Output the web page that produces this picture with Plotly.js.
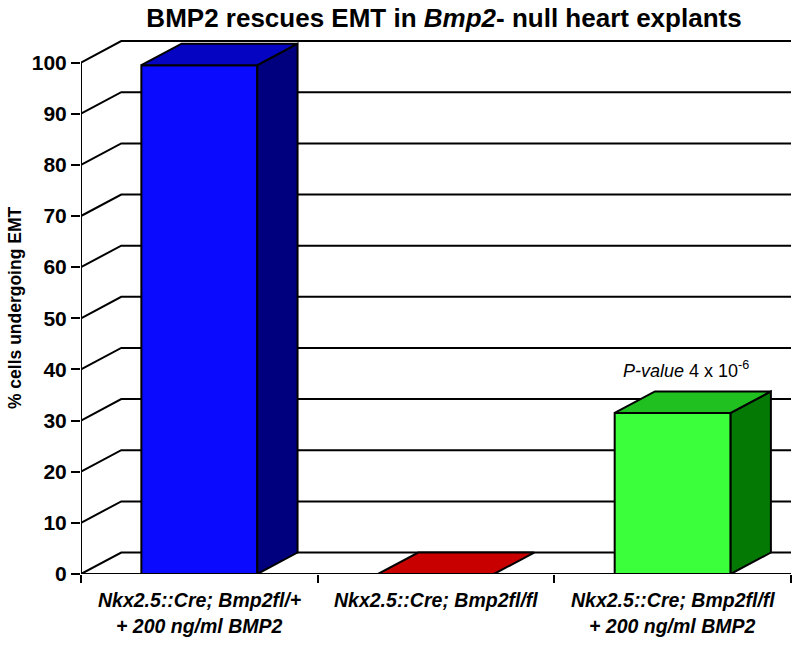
<!DOCTYPE html>
<html>
<head>
<meta charset="utf-8">
<script src="https://cdn.plot.ly/plotly-3.0.1.min.js"></script>
<style>html,body{margin:0;padding:0;background:#fff;}#chart{width:800px;height:646px;}</style>
</head>
<body>
<div id="chart"></div>
<script>
// ---- data ----
const labelLine1 = ["Nkx2.5::Cre; Bmp2fl/+", "Nkx2.5::Cre; Bmp2fl/fl", "Nkx2.5::Cre; Bmp2fl/fl"];
const labelLine2 = ["+ 200 ng/ml BMP2", "", "+ 200 ng/ml BMP2"];
const values = [99.5, 0, 31.5];
const yTicks = [0, 10, 20, 30, 40, 50, 60, 70, 80, 90, 100];
const frontColors = ["#0a0aff", "#cc0000", "#3cff3c"];
const topColors = ["#0404c2", "#c80000", "#20c020"];
const sideColors = ["#00007e", "#800000", "#047a04"];

// ---- style constants ----
const DX = 0.17, DY = 4.2, W = 0.245;
const FONT = "Liberation Sans, Arial, Helvetica, sans-serif";

const traces = [];
// back wall grid + side diagonals
const gx = [], gy = [];
yTicks.forEach(v => {
  gx.push(-0.5, -0.5 + DX, 2.505, null);
  gy.push(v, v + DY, v + DY, null);
});
// front-left vertical edge and front floor edge
gx.push(-0.5, -0.5, null, -0.5, 2.5);
gy.push(0, yTicks[yTicks.length - 1], null, 0, 0);
traces.push({x: gx, y: gy, mode: "lines", type: "scatter", line: {color: "#000", width: 2},
  hoverinfo: "skip", cliponaxis: false, showlegend: false});

function poly(xs, ys, color) {
  traces.push({x: xs.concat([xs[0]]), y: ys.concat([ys[0]]), mode: "lines", type: "scatter",
    fill: "toself", fillcolor: color, line: {color: "#000", width: 2},
    hoverinfo: "skip", cliponaxis: false, showlegend: false});
}
values.forEach((v, i) => {
  const a = i - W, b = i + W;
  if (v > 0) {
    poly([a, b, b, a], [0, 0, v, v], frontColors[i]);
    poly([b, b + DX, b + DX, b], [0, DY, v + DY, v], sideColors[i]);
  }
  poly([a, b, b + DX, a + DX], [v, v, v + DY, v + DY], topColors[i]);
});

const annotations = [];
labelLine1.forEach((t, i) => {
  annotations.push({x: i, y: 0, xref: "x", yref: "paper", text: "<b><i>" + t + "</i></b>",
    showarrow: false, xanchor: "center", yanchor: "middle", yshift: -26,
    font: {family: FONT, size: 19.5, color: "#000"}});
  if (labelLine2[i]) annotations.push({x: i, y: 0, xref: "x", yref: "paper",
    text: "<b><i>" + labelLine2[i] + "</i></b>",
    showarrow: false, xanchor: "center", yanchor: "middle", yshift: -52,
    font: {family: FONT, size: 19.5, color: "#000"}});
});
annotations.push({x: -0.093, y: 0.497, xref: "paper", yref: "paper", text: "<b>% cells undergoing EMT</b>",
  textangle: -90, showarrow: false, xanchor: "center", yanchor: "middle",
  font: {family: FONT, size: 17.5, color: "#000"}});
annotations.push({x: 2, y: 40, xref: "x", yref: "y", xshift: 13,
  text: "<i>P-value</i> 4 x 10<sup>-6</sup>", showarrow: false, xanchor: "center", yanchor: "middle",
  font: {family: FONT, size: 18, color: "#000"}});

const layout = {
  width: 800, height: 646,
  margin: {l: 81, r: 9, t: 37, b: 72},
  paper_bgcolor: "#fff", plot_bgcolor: "#fff",
  showlegend: false,
  title: {text: "<b>BMP2 rescues EMT in <i>Bmp2</i>- null heart explants</b>",
    x: 0.555, xanchor: "center", y: 0.972, yanchor: "middle", yref: "container",
    font: {family: FONT, size: 26, color: "#000"}},
  xaxis: {range: [-0.5, 2.5], showgrid: false, zeroline: false, showline: false,
    tickvals: [-0.5, 0.5, 1.5, 2.5], showticklabels: false, ticks: "outside",
    ticklen: 8, tickwidth: 2, tickcolor: "#000", fixedrange: true},
  yaxis: {range: [0, 105], showgrid: false, zeroline: false, showline: false,
    tickvals: yTicks, ticktext: yTicks.map(v => "<b>" + v + "</b>"),
    ticks: "outside", ticklen: 9, tickwidth: 2, tickcolor: "#000",
    tickfont: {family: FONT, size: 21, color: "#000"}, fixedrange: true},
  annotations: annotations
};
Plotly.newPlot("chart", traces, layout, {staticPlot: true, displayModeBar: false});
</script>
</body>
</html>
